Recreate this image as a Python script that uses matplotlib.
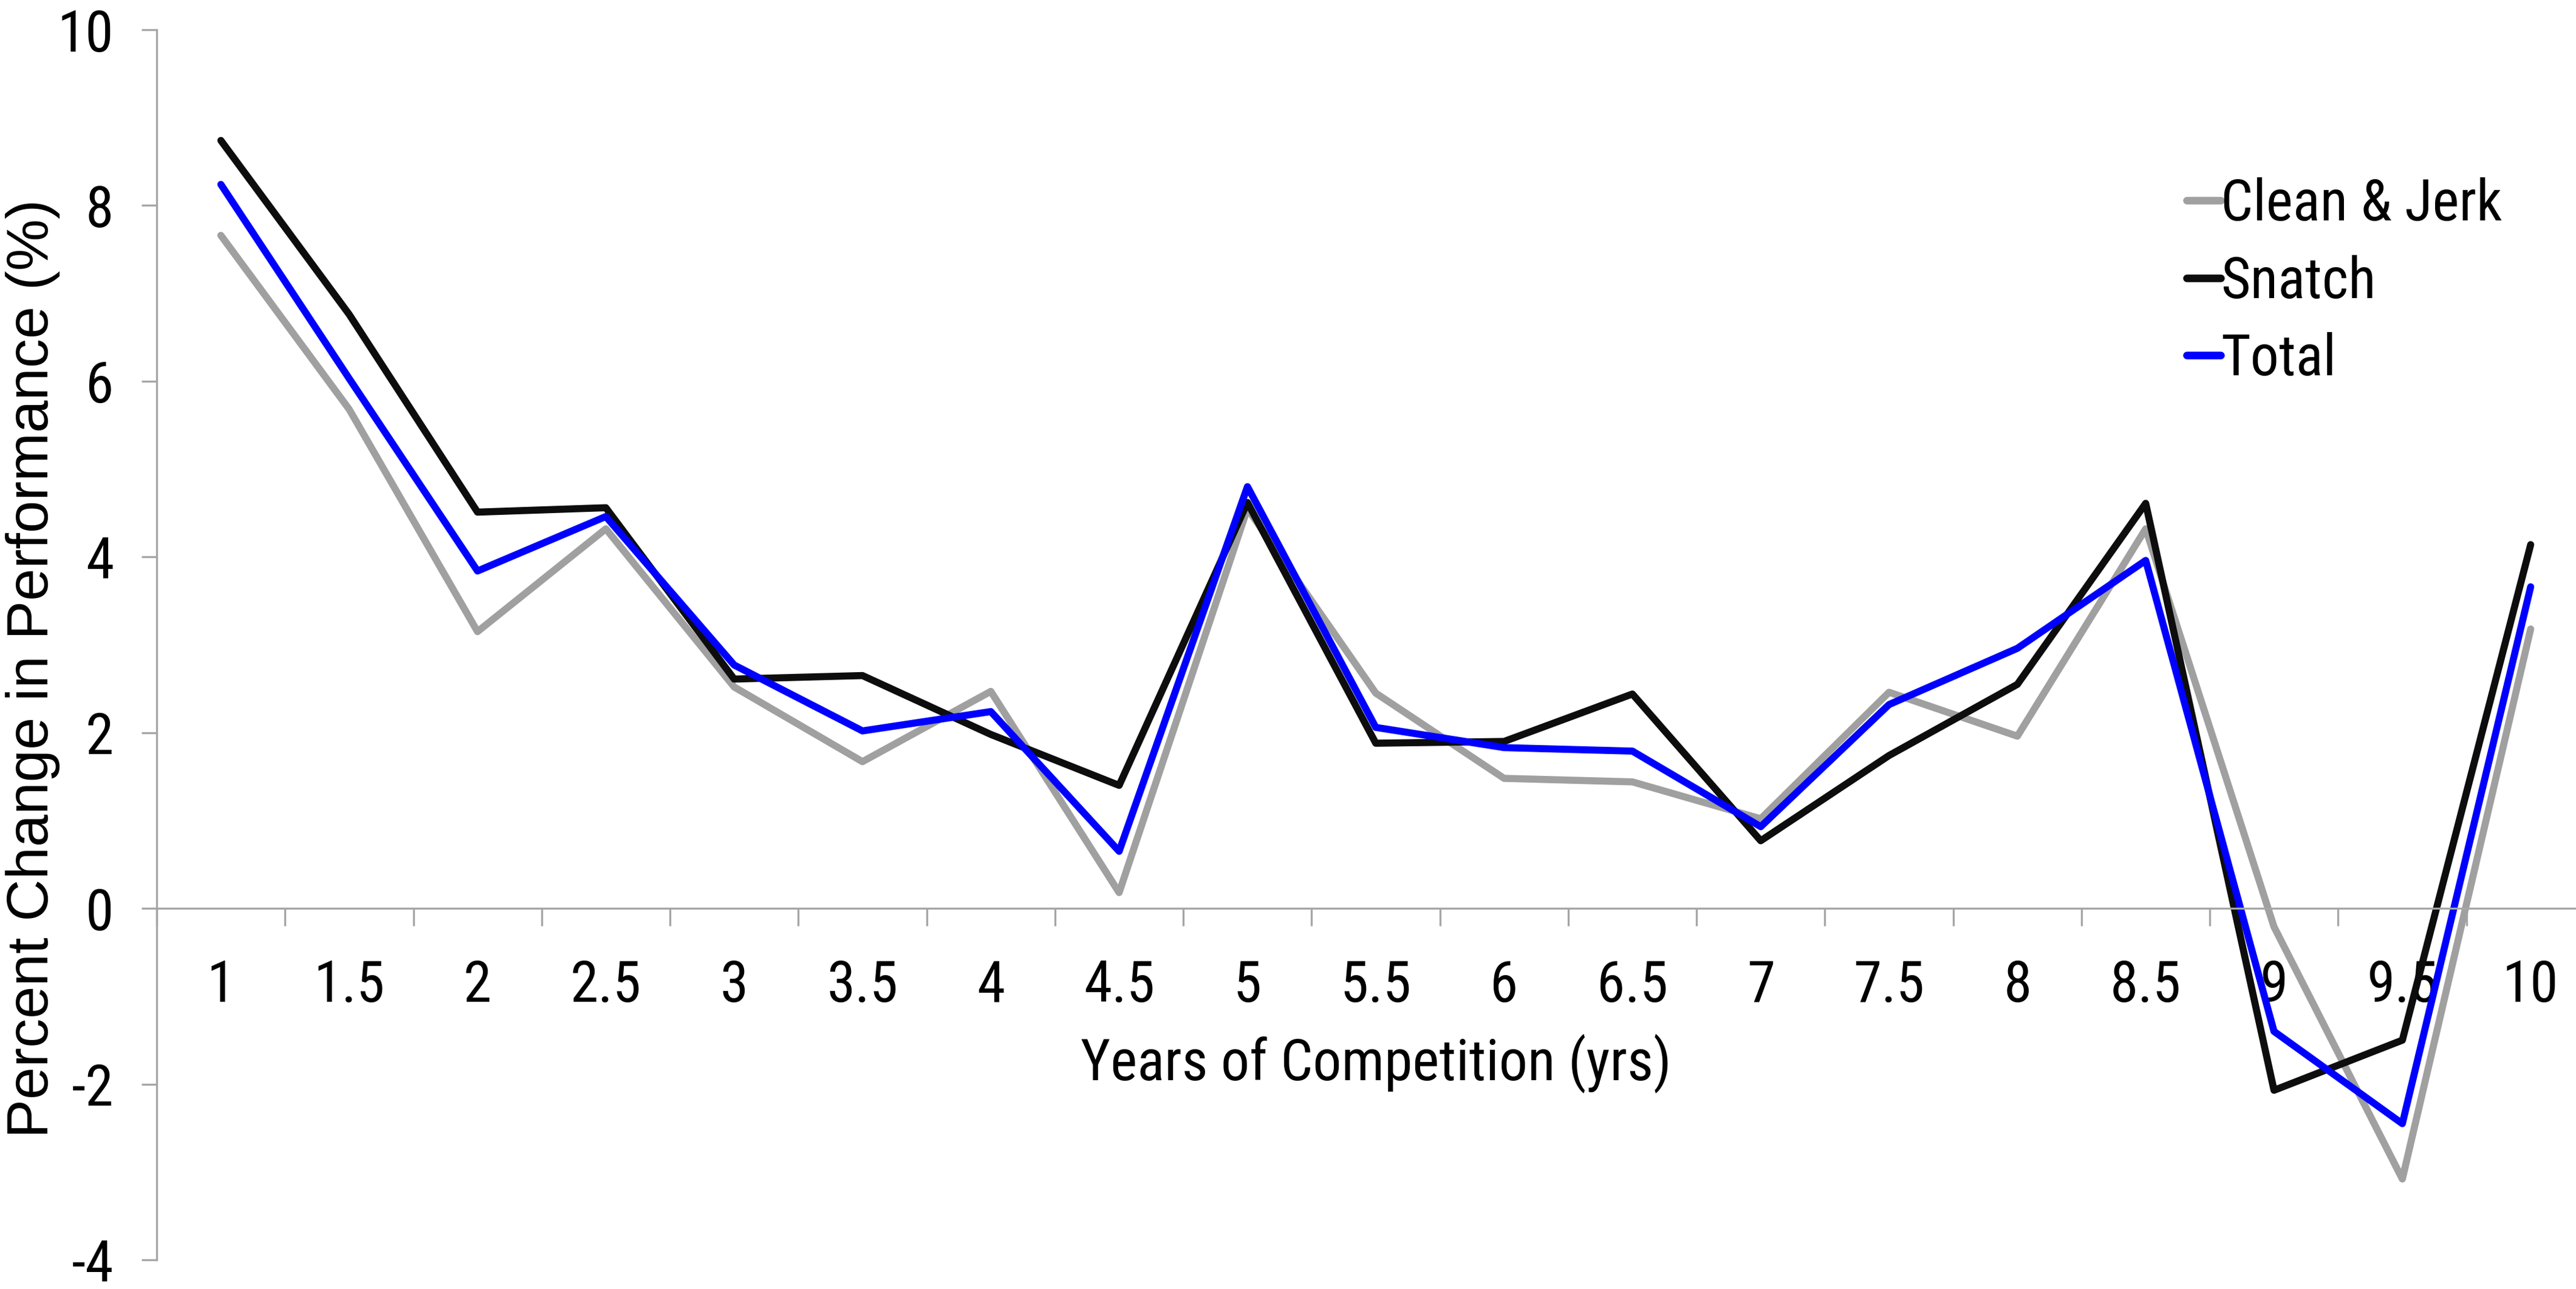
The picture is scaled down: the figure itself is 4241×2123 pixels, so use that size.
import matplotlib

matplotlib.use("Agg")
import matplotlib.pyplot as plt

# values
years = ["1", "1.5", "2", "2.5", "3", "3.5", "4", "4.5", "5", "5.5",
         "6", "6.5", "7", "7.5", "8", "8.5", "9", "9.5", "10"]
clean_jerk = [7.66, 5.68, 3.15, 4.32, 2.52, 1.67, 2.47, 0.18, 4.55, 2.45,
              1.48, 1.44, 1.02, 2.46, 1.96, 4.32, -0.21, -3.08, 3.18]
snatch = [8.74, 6.76, 4.51, 4.56, 2.61, 2.65, 1.98, 1.40, 4.62, 1.88,
          1.90, 2.44, 0.77, 1.74, 2.55, 4.61, -2.07, -1.50, 4.14]
total = [8.24, 6.03, 3.84, 4.46, 2.77, 2.02, 2.24, 0.65, 4.80, 2.06,
         1.83, 1.79, 0.93, 2.32, 2.96, 3.96, -1.40, -2.45, 3.66]
y_ticks = [-4, -2, 0, 2, 4, 6, 8, 10]

plt.rcParams["axes.unicode_minus"] = False
# narrow sans for ticks/legend, like the Arial Narrow of the original
plt.rcParams["font.family"] = ["Roboto Condensed", "Liberation Sans", "DejaVu Sans"]

fig = plt.figure(figsize=(4241 / 300, 2123 / 300), dpi=300)
ax = fig.add_axes([258 / 4241, 48 / 2123, 4014 / 4241, 2026 / 2123])

x = list(range(len(years)))
series = [("Clean & Jerk", clean_jerk, "#a0a0a0"),
          ("Snatch", snatch, "#0d0d0d"),
          ("Total", total, "#0000ff")]
for name, vals, color in series:
    ax.plot(x, vals, color=color, lw=2.8, label=name, solid_capstyle="round")

ax.set_xlim(-0.5, len(years) - 0.5)
ax.set_ylim(-4, 10)

axis_gray = "#a6a6a6"
for side in ["top", "right"]:
    ax.spines[side].set_visible(False)
ax.spines["left"].set_color(axis_gray)
ax.spines["left"].set_linewidth(0.8)
ax.spines["bottom"].set_position(("data", 0))
ax.spines["bottom"].set_color(axis_gray)
ax.spines["bottom"].set_linewidth(0.8)

# category boundaries get the tick marks, centres get the labels
ax.set_xticks([i - 0.5 for i in x] + [len(years) - 0.5])
ax.set_xticklabels([])
ax.set_xticks(x, minor=True)
ax.set_xticklabels(years, minor=True, fontsize=22.5)
ax.tick_params(axis="x", which="major", direction="out", length=7,
               width=0.8, color=axis_gray)
ax.tick_params(axis="x", which="minor", length=0, pad=20)

ax.set_yticks(y_ticks)
ax.set_yticklabels([str(v) for v in y_ticks], fontsize=22.5)
ax.tick_params(axis="y", direction="out", length=6, width=0.8,
               color=axis_gray, pad=11)

ax.text(9, -1.95, "Years of Competition (yrs)", fontsize=22.5,
        ha="center", va="baseline")
fig.text(54 / 4241, 1 - 1101 / 2123, "Percent Change in Performance (%)",
         rotation=90, ha="center", va="center", fontsize=23,
         family=["Liberation Sans", "DejaVu Sans"])

leg = ax.legend(loc="upper left", bbox_to_anchor=(3600 / 4241, 1 - 292 / 2123),
                bbox_transform=fig.transFigure, frameon=False, fontsize=22.5,
                handlelength=0.6, handletextpad=0.0, labelspacing=0.4,
                borderpad=0, borderaxespad=0)
for line in leg.get_lines():
    line.set_linewidth(3)
    line.set_solid_capstyle("round")

fig.savefig("out.png", dpi=300)
